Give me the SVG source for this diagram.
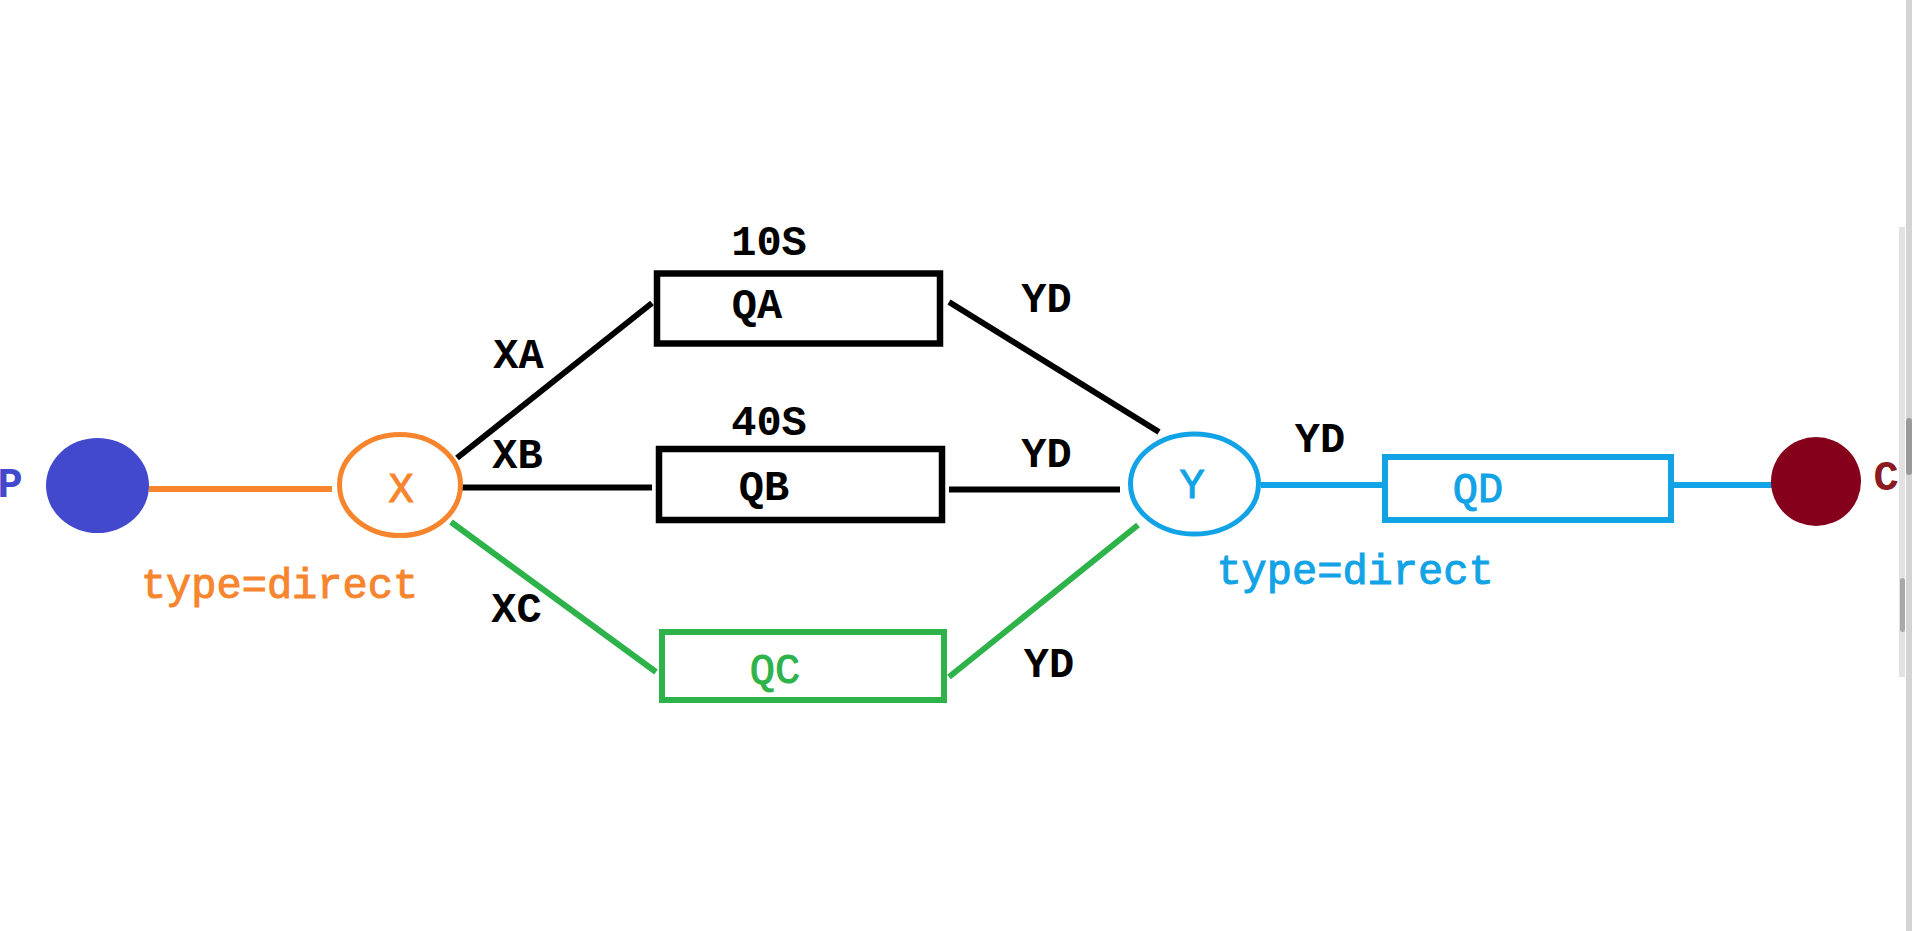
<svg xmlns="http://www.w3.org/2000/svg" width="1912" height="931" viewBox="0 0 1912 931">
  <style>
    text { font-family: "Liberation Mono", "Courier New", monospace; font-size: 42px; text-anchor: middle; }
    .b { font-weight: bold; fill: #000; }
    .lbl { font-weight: bold; fill: #000; }
    .or { fill: #F7852E; stroke: #F7852E; stroke-width: 1; }
    .bl { fill: #12A3E6; stroke: #12A3E6; stroke-width: 1; }
    .gr { fill: #2EB34A; stroke: #2EB34A; stroke-width: 1; }
    .box { fill: none; stroke: #000; stroke-width: 6.5; }
    .ln { fill: none; stroke-width: 6; }
  </style>
  <rect x="0" y="0" width="1912" height="931" fill="#ffffff"/>

  <g id="connectors">
    <line class="ln" x1="149" y1="489" x2="332" y2="489" stroke="#F7852E"/>
    <line class="ln" x1="457" y1="458" x2="652" y2="303" stroke="#000"/>
    <line class="ln" x1="459" y1="487.5" x2="652" y2="487.5" stroke="#000"/>
    <line class="ln" x1="451" y1="522" x2="656" y2="672" stroke="#2EB34A" stroke-width="5"/>
    <line class="ln" x1="949" y1="302" x2="1159" y2="432" stroke="#000"/>
    <line class="ln" x1="949" y1="489.5" x2="1120" y2="489.5" stroke="#000"/>
    <line class="ln" x1="1138" y1="525" x2="949" y2="677" stroke="#2EB34A" stroke-width="5"/>
    <line class="ln" x1="1261" y1="485" x2="1382" y2="485" stroke="#12A3E6"/>
    <line class="ln" x1="1674" y1="485" x2="1773" y2="485" stroke="#12A3E6"/>
  </g>

  <g id="node-P">
    <ellipse cx="97.5" cy="485.5" rx="51.5" ry="47.5" fill="#4349CC"/>
    <text x="10" y="497" class="b" style="fill:#4349CC">P</text>
  </g>

  <g id="node-X">
    <ellipse cx="400" cy="485" rx="60.5" ry="50.5" fill="none" stroke="#F7852E" stroke-width="5"/>
    <text x="401" y="502" class="or">X</text>
    <text x="279.5" y="598" class="or">type=direct</text>
  </g>

  <g id="node-QA">
    <rect class="box" x="657" y="273.5" width="283" height="70"/>
    <text x="757" y="318" class="b">QA</text>
    <text x="769" y="255" class="b">10S</text>
  </g>

  <g id="node-QB">
    <rect class="box" x="659" y="449" width="283" height="71"/>
    <text x="764" y="500" class="b">QB</text>
    <text x="769" y="435" class="b">40S</text>
  </g>

  <g id="node-QC">
    <rect x="662" y="632" width="282" height="68" fill="none" stroke="#2EB34A" stroke-width="6"/>
    <text x="775" y="683" class="gr">QC</text>
  </g>

  <g id="node-Y">
    <ellipse cx="1194.5" cy="484" rx="64" ry="50" fill="none" stroke="#12A3E6" stroke-width="5"/>
    <text x="1192" y="498" class="bl">Y</text>
    <text x="1355" y="584" class="bl">type=direct</text>
  </g>

  <g id="node-QD">
    <rect x="1385" y="457" width="286" height="63" fill="none" stroke="#12A3E6" stroke-width="6"/>
    <text x="1478" y="502" class="bl">QD</text>
  </g>

  <g id="node-C">
    <ellipse cx="1816" cy="481.5" rx="45" ry="44.5" fill="#85001A"/>
    <text x="1886" y="490" class="b" style="fill:#8B1A22">C</text>
  </g>

  <g id="labels">
    <text x="518.5" y="368" class="lbl">XA</text>
    <text x="517.5" y="468" class="lbl">XB</text>
    <text x="516.5" y="622" class="lbl">XC</text>
    <text x="1046.5" y="312" class="lbl">YD</text>
    <text x="1046.5" y="467" class="lbl">YD</text>
    <text x="1049" y="677" class="lbl">YD</text>
    <text x="1320" y="452" class="lbl">YD</text>
  </g>

  <g id="scrollbar">
    <rect x="1906" y="0" width="6" height="931" fill="#d4d4d4"/>
    <rect x="1899" y="227" width="6" height="450" fill="#e2e2e2"/>
    <rect x="1906" y="418" width="6" height="57" rx="3" fill="#9a9a9a"/>
    <rect x="1900" y="578" width="5" height="54" rx="2.5" fill="#a8a8a8"/>
  </g>
</svg>
